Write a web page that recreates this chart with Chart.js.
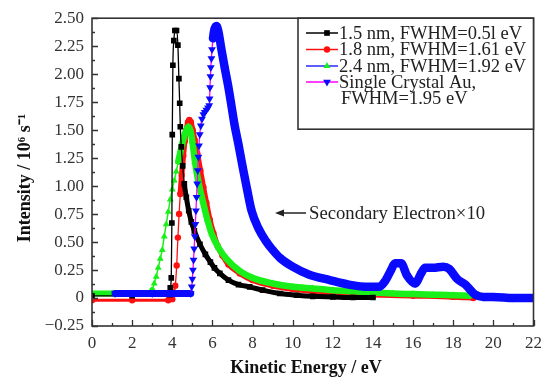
<!DOCTYPE html>
<html>
<head>
<meta charset="utf-8">
<script src="https://cdn.jsdelivr.net/npm/chart.js@4.4.1/dist/chart.umd.min.js"></script>
<style>
  html, body { margin: 0; padding: 0; background: #fff; }
  #wrap { position: relative; width: 549px; height: 380px; }
</style>
</head>
<body>
<div id="wrap"><canvas id="c" width="549" height="380"></canvas></div>
<script>
// ---- data (Kinetic Energy / eV, Intensity / 10^6 s^-1) ----
const xTicks = [0, 2, 4, 6, 8, 10, 12, 14, 16, 18, 20, 22];
const yTicks = [-0.25, 0, 0.25, 0.5, 0.75, 1.0, 1.25, 1.5, 1.75, 2.0, 2.25, 2.5];

const xTitle = "Kinetic Energy / eV";
const yTitle = "Intensity / 10\u2076 s\u207b\u00b9";
const seriesNames = [
  "1.5 nm, FWHM=0.5l eV",
  "1.8 nm, FWHM=1.61 eV",
  "2.4 nm, FWHM=1.92 eV",
  "Single Crystal Au,"
];
const legendExtraLine = "FWHM=1.95 eV";
const annotationText = "Secondary Electron\u00d710";

const blackX = [0, 2, 3.85, 3.9, 3.95, 3.98, 4.0, 4.03, 4.08, 4.13, 4.21, 4.28, 4.33, 4.37, 4.4, 4.45, 4.52, 4.6, 4.7, 4.82, 4.95, 5.1, 5.38, 5.65, 5.9, 6.1, 6.37, 6.8, 7.3, 7.86, 8.5, 9.36, 10.2, 11, 12, 13, 14];
const blackY = [0.02, 0.02, 0.03, 0.09, 0.18, 0.67, 1.46, 2.08, 2.3, 2.39, 2.39, 2.26, 1.96, 1.74, 1.53, 1.35, 1.18, 1.02, 0.9, 0.78, 0.68, 0.6, 0.48, 0.39, 0.32, 0.27, 0.22, 0.16, 0.12, 0.1, 0.07, 0.04, 0.025, 0.015, 0.01, 0.005, 0.005];

const redX = [0, 2, 3.8, 4.0, 4.08, 4.15, 4.22, 4.28, 4.34, 4.4, 4.47, 4.55, 4.62, 4.7, 4.78, 4.85, 4.93, 5.02, 5.12, 5.25, 5.4, 5.55, 5.7, 5.87, 6.05, 6.25, 6.5, 6.8, 7.37, 8, 9, 10, 11, 12, 14, 16, 18, 19];
const redY = [-0.02, -0.02, -0.02, -0.01, 0.05, 0.11, 0.29, 0.54, 0.75, 0.93, 1.1, 1.27, 1.4, 1.5, 1.57, 1.59, 1.57, 1.5, 1.41, 1.29, 1.14, 0.99, 0.85, 0.7, 0.58, 0.47, 0.38, 0.3, 0.22, 0.16, 0.11, 0.08, 0.06, 0.045, 0.03, 0.02, 0.01, 0.0];

const greenX = [0, 1, 2, 2.9, 3.0, 3.1, 3.2, 3.3, 3.4, 3.5, 3.6, 3.7, 3.8, 3.9, 4.0, 4.1, 4.2, 4.3, 4.4, 4.5, 4.6, 4.7, 4.8, 4.9, 5.0, 5.13, 5.3, 5.53, 5.75, 5.97, 6.3, 6.7, 7.37, 8, 9, 10, 11, 12, 13, 14, 15, 16, 17, 18, 18.8];
const greenY = [0.04, 0.04, 0.04, 0.04, 0.07, 0.13, 0.19, 0.27, 0.35, 0.43, 0.55, 0.66, 0.77, 0.88, 0.97, 1.05, 1.13, 1.22, 1.3, 1.38, 1.45, 1.5, 1.53, 1.5, 1.4, 1.22, 1.04, 0.86, 0.7, 0.57, 0.45, 0.35, 0.24, 0.18, 0.13, 0.1, 0.085, 0.07, 0.06, 0.05, 0.04, 0.035, 0.03, 0.025, 0.02];

const blueX = [1.15, 2, 3, 4, 4.92, 4.97, 5.0, 5.03, 5.06, 5.09, 5.12, 5.15, 5.18, 5.21, 5.24, 5.27, 5.3, 5.33, 5.37, 5.42, 5.48, 5.55, 5.62, 5.7, 5.78, 5.84, 5.86, 5.88, 5.9, 5.92, 5.95, 5.98, 6.03, 6.1, 6.2, 6.3, 6.45, 6.62, 6.78, 6.92, 7.1, 7.3, 7.52, 7.75, 7.95, 8.3, 8.7, 9.0, 9.36, 10, 10.8, 11.85, 12.8, 13.8, 14.3, 14.6, 14.9, 15.1, 15.4, 15.7, 16.1, 16.4, 16.6, 17.0, 17.5, 17.8, 18.2, 18.6, 19.1, 19.5, 20, 21, 22];
const blueY = [0.04, 0.04, 0.04, 0.04, 0.04, 0.1, 0.17, 0.25, 0.34, 0.44, 0.55, 0.66, 0.78, 0.9, 1.02, 1.14, 1.26, 1.36, 1.46, 1.54, 1.6, 1.64, 1.66, 1.68, 1.7, 1.72, 1.78, 1.88, 1.98, 2.06, 2.14, 2.22, 2.32, 2.4, 2.43, 2.38, 2.22, 2.05, 1.9, 1.75, 1.55, 1.37, 1.16, 0.95, 0.78, 0.62, 0.5, 0.43, 0.36, 0.28, 0.21, 0.16, 0.12, 0.1, 0.1, 0.15, 0.25, 0.31, 0.31, 0.2, 0.13, 0.22, 0.27, 0.27, 0.28, 0.26, 0.17, 0.12, 0.03, 0.01, 0.01, 0.0, 0.0];

// ---- styling ----
const SERIF = '"Liberation Serif", "Times New Roman", Times, serif';
const C_BLACK = '#000000', C_RED = '#ff1010', C_GREEN = '#19f019', C_BLUE = '#0a0aff', C_MAG = '#ff00ff';

function pts(xs, ys) { return xs.map((x, i) => ({ x: x, y: ys[i] })); }

const markerStyles = [
  { pointStyle: 'rect', radius: 4, rotation: 0, fill: C_BLACK, line: C_BLACK },
  { pointStyle: 'circle', radius: 3.2, rotation: 0, fill: C_RED, line: C_RED },
  { pointStyle: 'triangle', radius: 4, rotation: 0, fill: C_GREEN, line: '#2a2aff' },
  { pointStyle: 'triangle', radius: 4.5, rotation: 180, fill: C_BLUE, line: C_MAG }
];

const blueThin = s => (s.p0.parsed.x >= 4.92 && s.p1.parsed.x <= 6.05);

const datasets = [
  {
    label: seriesNames[0], data: pts(blackX, blackY), order: 1,
    borderColor: C_BLACK, backgroundColor: C_BLACK,
    pointStyle: 'rect', pointRadius: 4, pointBorderWidth: 0, pointBackgroundColor: C_BLACK,
    segment: { borderWidth: s => (s.p0.parsed.x >= 4.6 ? 5 : 1.3) }
  },
  {
    label: seriesNames[1], data: pts(redX, redY), order: 3,
    borderColor: C_RED, backgroundColor: C_RED,
    pointStyle: 'circle', pointRadius: 3.2, pointBorderWidth: 0, pointBackgroundColor: C_RED,
    segment: { borderWidth: s => (s.p1.parsed.x <= 4.0 ? 3 : (s.p0.parsed.x >= 4.4 ? 5.5 : 1.3)) }
  },
  {
    label: seriesNames[2], data: pts(greenX, greenY), order: 2,
    borderColor: C_GREEN, backgroundColor: C_GREEN,
    pointStyle: 'triangle', pointRadius: 4, pointBorderWidth: 0, pointBackgroundColor: C_GREEN,
    segment: { borderWidth: s => (s.p1.parsed.x <= 3.0 ? 6 : (s.p0.parsed.x >= 4.3 ? 6.5 : 1.5)) }
  },
  {
    label: seriesNames[3], data: pts(blueX, blueY), order: 0,
    borderColor: C_BLUE, backgroundColor: C_BLUE,
    pointStyle: 'triangle', pointRotation: 180, pointRadius: 4.5, pointBorderWidth: 0, pointBackgroundColor: C_BLUE,
    segment: {
      borderWidth: s => (blueThin(s) ? 1.3 : (s.p1.parsed.x <= 4.92 ? 7 : 8.5)),
      borderColor: s => (blueThin(s) ? C_MAG : C_BLUE)
    }
  }
];

// frame, inward ticks, axis titles, legend box and annotation
const decorPlugin = {
  id: 'decor',
  afterDatasetsDraw(chart) {
    const ctx = chart.ctx, a = chart.chartArea;
    const xs = chart.scales.x, ys = chart.scales.y;
    ctx.save();
    // frame
    ctx.strokeStyle = '#333';
    ctx.lineWidth = 1.6;
    ctx.strokeRect(a.left, a.top, a.right - a.left, a.bottom - a.top);
    // x ticks (inward)
    ctx.lineWidth = 1.3;
    ctx.beginPath();
    for (let v = 0; v <= 22; v += 1) {
      const px = Math.round(xs.getPixelForValue(v)) + 0.5;
      const len = (v % 2 === 0) ? 6 : 3;
      ctx.moveTo(px, a.bottom); ctx.lineTo(px, a.bottom - len);
    }
    // y ticks (inward)
    for (let k = 0; k <= 22; k++) {
      const v = -0.25 + k * 0.125;
      const py = Math.round(ys.getPixelForValue(v)) + 0.5;
      const len = (k % 2 === 0) ? 6 : 3;
      ctx.moveTo(a.left, py); ctx.lineTo(a.left + len, py);
    }
    ctx.stroke();

    // axis titles
    ctx.fillStyle = '#111';
    ctx.font = 'bold 18px ' + SERIF;
    ctx.textAlign = 'center'; ctx.textBaseline = 'middle';
    ctx.fillText(xTitle, 306, 368);
    ctx.save();
    ctx.translate(25, 178);
    ctx.rotate(-Math.PI / 2);
    ctx.fillText(yTitle, 0, 0);
    ctx.restore();

    // annotation arrow + text
    const ay = 213;
    ctx.strokeStyle = '#222'; ctx.fillStyle = '#222'; ctx.lineWidth = 1.5;
    ctx.beginPath(); ctx.moveTo(282, ay); ctx.lineTo(306, ay); ctx.stroke();
    ctx.beginPath(); ctx.moveTo(275, ay); ctx.lineTo(284, ay - 3.5); ctx.lineTo(284, ay + 3.5); ctx.closePath(); ctx.fill();
    ctx.font = '18.7px ' + SERIF;
    ctx.textBaseline = 'middle'; ctx.textAlign = 'left';
    ctx.fillStyle = '#222';
    ctx.fillText(annotationText, 309, ay + 1);

    // legend box
    const lx = 298, ly = a.top, lw = a.right - 298, lh = 111;
    ctx.fillStyle = '#fff';
    ctx.fillRect(lx, ly, lw, lh);
    ctx.strokeStyle = '#333'; ctx.lineWidth = 1.6;
    ctx.strokeRect(lx, ly, lw, lh);
    const rows = [33, 49.5, 66, 82];
    ctx.font = '18.5px ' + SERIF;
    for (let i = 0; i < 4; i++) {
      const m = markerStyles[i];
      const y = rows[i];
      ctx.strokeStyle = m.line; ctx.lineWidth = 1.5;
      ctx.beginPath(); ctx.moveTo(306, y); ctx.lineTo(338, y); ctx.stroke();
      ctx.fillStyle = m.fill; ctx.strokeStyle = m.fill;
      Chart.helpers.drawPoint(ctx, { pointStyle: m.pointStyle, radius: m.radius, rotation: m.rotation, borderWidth: 0 }, 327, y);
      ctx.fillStyle = '#222';
      ctx.textBaseline = 'middle'; ctx.textAlign = 'left';
      ctx.fillText(seriesNames[i], 339, y + 1);
    }
    ctx.fillText(legendExtraLine, 341, 99);
    ctx.restore();
  }
};

function fmtY(v) {
  if (Math.abs(v) < 1e-9) return '0';
  if (v < 0) return '\u2212' + Math.abs(v).toFixed(2);
  return v.toFixed(2);
}

new Chart(document.getElementById('c'), {
  type: 'line',
  data: { datasets: datasets },
  plugins: [decorPlugin],
  options: {
    responsive: false,
    animation: false,
    devicePixelRatio: 1,
    layout: { padding: { top: 16, right: 15, left: 0, bottom: 0 } },
    elements: { line: { cubicInterpolationMode: 'monotone', borderJoinStyle: 'round', borderCapStyle: 'round' } },
    plugins: { legend: { display: false }, tooltip: { enabled: false } },
    scales: {
      x: {
        type: 'linear', min: 0, max: 22,
        afterFit: s => { s.height = 54; },
        afterBuildTicks: s => { s.ticks = xTicks.map(v => ({ value: v })); },
        ticks: { stepSize: 2, padding: 7, color: '#333', font: { family: SERIF, size: 17 }, maxRotation: 0 },
        grid: { display: false, drawTicks: false },
        border: { display: false }
      },
      y: {
        type: 'linear', min: -0.25, max: 2.5,
        afterFit: s => { s.width = 92; },
        afterBuildTicks: s => { s.ticks = yTicks.map(v => ({ value: v })); },
        ticks: { stepSize: 0.25, padding: 8, color: '#333', font: { family: SERIF, size: 17 }, callback: v => fmtY(v) },
        grid: { display: false, drawTicks: false },
        border: { display: false }
      }
    }
  }
});
</script>
</body>
</html>
